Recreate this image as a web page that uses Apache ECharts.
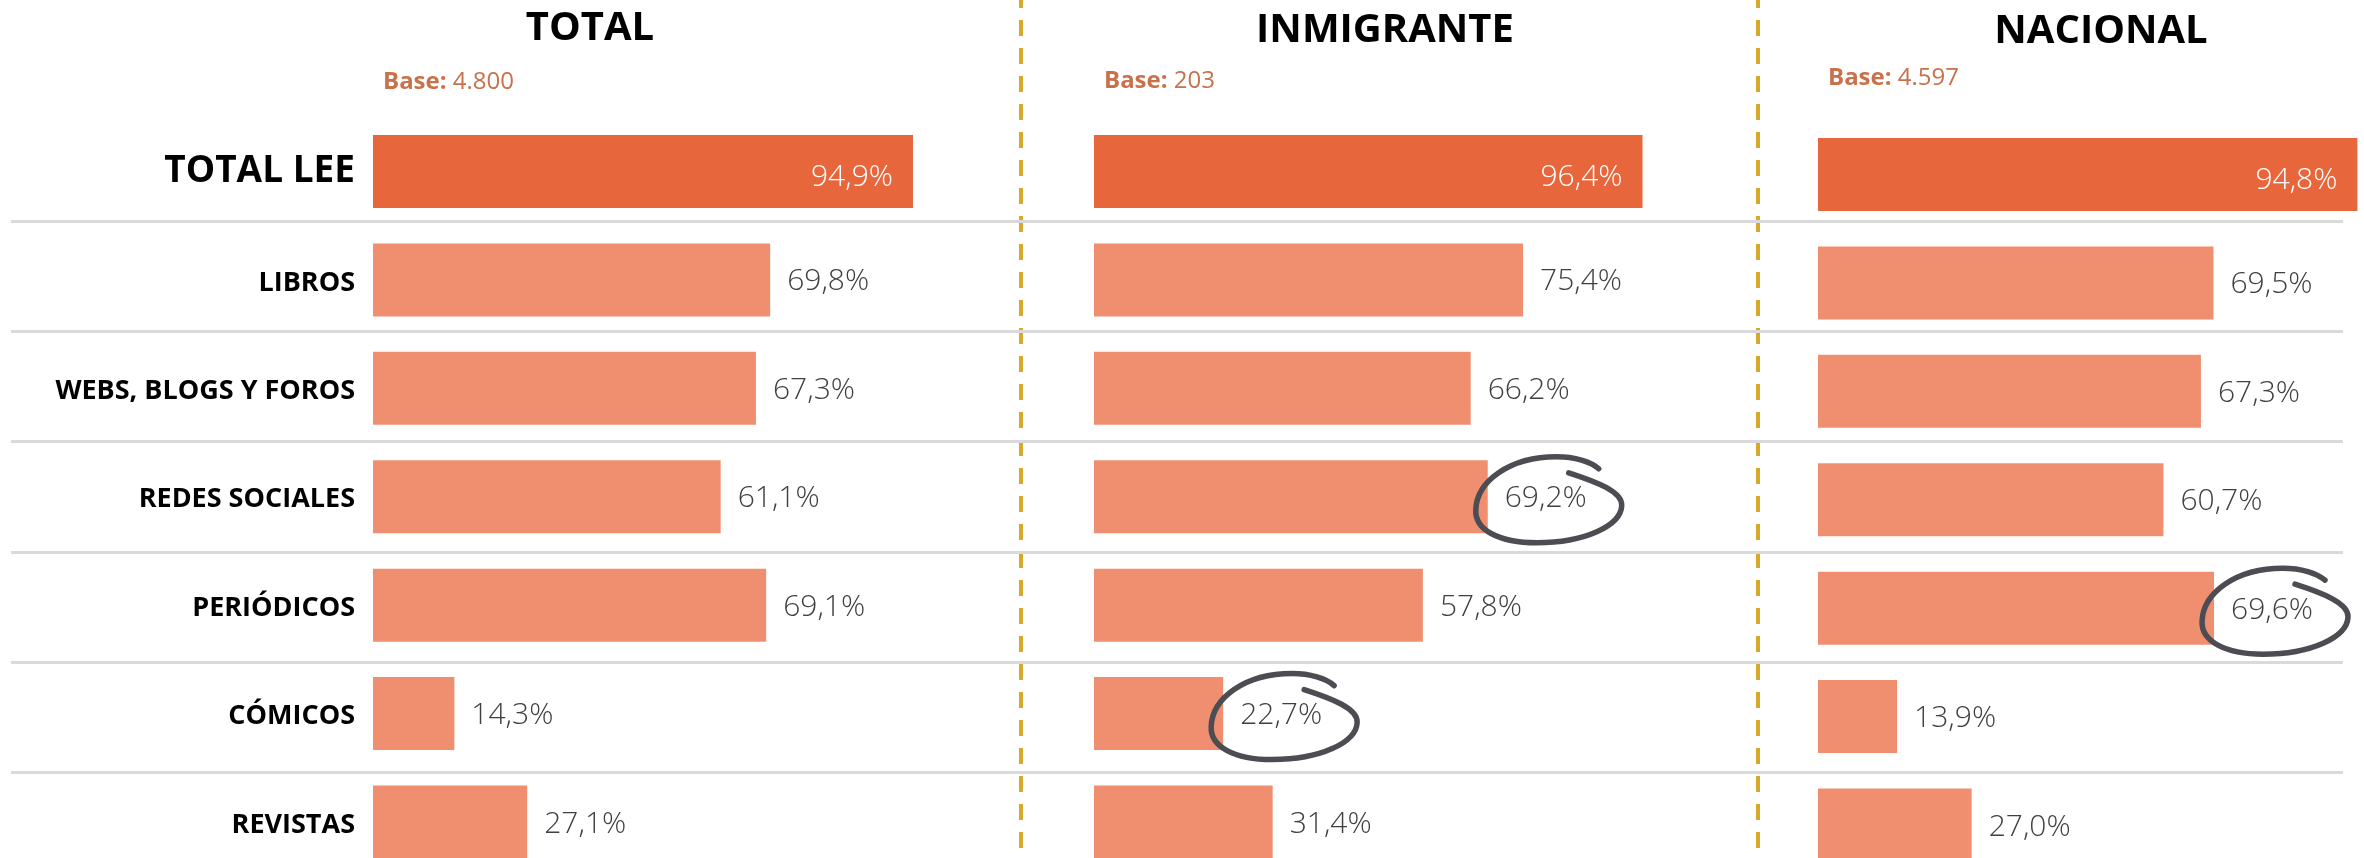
<!DOCTYPE html>
<html>
<head>
<meta charset="utf-8">
<script src="https://cdn.jsdelivr.net/npm/echarts@6/dist/echarts.min.js"></script>
<style>
  html, body { margin: 0; padding: 0; background: #ffffff; }
  #chart { width: 2364px; height: 858px; }
</style>
</head>
<body>
<div id="chart"></div>
<script>
// ---- data ----
const categories = ['TOTAL LEE', 'LIBROS', 'WEBS, BLOGS Y FOROS', 'REDES SOCIALES', 'PERIÓDICOS', 'CÓMICOS', 'REVISTAS'];
const totalValues = [94.9, 69.8, 67.3, 61.1, 69.1, 14.3, 27.1];
const inmigranteValues = [96.4, 75.4, 66.2, 69.2, 57.8, 22.7, 31.4];
const nacionalValues = [94.8, 69.5, 67.3, 60.7, 69.6, 13.9, 27.0];
const panelTitles = ['TOTAL', 'INMIGRANTE', 'NACIONAL'];
const panelBases = ['4.800', '203', '4.597'];
// rows whose value is circled, per panel (category indices)
const circledRows = [[], [3, 5], [4]];

// ---- layout & style ----
const FONT = '"Open Sans", "Noto Sans", "DejaVu Sans", sans-serif';
const SCALE_W = 569;          // pixel width of the 0–100 % range
const ROW_H = 108.42;         // pixel height of one category band
const panels = [
  { values: totalValues,      left: 373,  top: 117.3, titleX: 590,  titleY: 29, baseX: 383,  baseY: 82 },
  { values: inmigranteValues, left: 1094, top: 117.3, titleX: 1385, titleY: 31, baseX: 1104, baseY: 81 },
  { values: nacionalValues,   left: 1818, top: 120.3, titleX: 2101, titleY: 32, baseX: 1828, baseY: 78 }
];
const COLOR_HEAD = '#E8663C';
const COLOR_BAR = '#F08E70';
const COLOR_LABEL = '#404040';
const COLOR_BASE = '#C8714A';
const COLOR_DIVIDER = '#D9A82A';
const COLOR_RULE = '#DADADA';
const COLOR_INK = '#4B4D53';

// hand-drawn ring around a value label (local coords, centred on the label)
const RING_PATH = 'M 20 -27 C 48 -18 74 -8 73 6 C 72 26 36 43 -12 43 C -50 43 -74 30 -73 10 C -72 -18 -40 -43 8 -43 C 26 -43 42 -38 50 -31';

const fmt = v => v.toFixed(1).replace('.', ',') + '%';

const grids = [], xAxes = [], yAxes = [], series = [];

panels.forEach((p, i) => {
  grids.push({
    left: p.left, top: p.top, width: SCALE_W, height: ROW_H * categories.length,
    outerBoundsMode: 'none', containLabel: false
  });
  xAxes.push({ gridIndex: i, type: 'value', min: 0, max: 100, show: false });
  yAxes.push({
    gridIndex: i,
    type: 'category',
    data: categories,
    inverse: true,
    axisLine: { show: false },
    axisTick: { show: false },
    splitLine: { show: false },
    axisLabel: {
      show: i === 0,
      margin: 18,
      formatter: (v, idx) => idx === 0 ? '{head|' + v + '}' : '{row|' + v + '}',
      rich: {
        head: { fontFamily: FONT, fontWeight: 'bold', fontSize: 37, color: '#000000' },
        row: { fontFamily: FONT, fontWeight: 'bold', fontSize: 27, color: '#000000', padding: [6, 0, 0, 0] }
      }
    }
  });
  series.push({
    type: 'bar',
    xAxisIndex: i,
    yAxisIndex: i,
    barWidth: 73,
    itemStyle: { color: COLOR_BAR },
    label: {
      show: true,
      position: 'right',
      distance: 17,
      formatter: prm => fmt(prm.value),
      fontFamily: FONT,
      fontWeight: 300,
      fontSize: 30,
      color: COLOR_LABEL,
      offset: [0, 2]
    },
    data: p.values.map((v, r) => r === 0 ? {
      value: v,
      itemStyle: { color: COLOR_HEAD },
      label: { position: 'insideRight', distance: 20, color: '#ffffff', offset: [0, 6] }
    } : v),
    silent: true,
    animation: false
  });
  if (circledRows[i].length) {
    series.push({
      type: 'custom',
      xAxisIndex: i,
      yAxisIndex: i,
      data: circledRows[i].map(r => [p.values[r], r]),
      encode: { x: 0, y: 1 },
      renderItem: (params, api) => {
        const pt = api.coord([api.value(0), api.value(1)]);
        const cx = pt[0] + 61, cy = pt[1] + 3;
        return {
          type: 'path',
          shape: { pathData: RING_PATH, x: cx - 73, y: cy - 43, width: 146, height: 86, layout: 'cover' },
          style: { fill: 'none', stroke: COLOR_INK, lineWidth: 5.5, lineCap: 'round', lineJoin: 'round' }
        };
      },
      silent: true,
      animation: false,
      z: 5
    });
  }
});

// horizontal rules between rows
grids.push({ left: 11, top: 221, width: 2332, height: 110.3 * 6, outerBoundsMode: 'none', containLabel: false });
xAxes.push({ gridIndex: 3, type: 'value', min: 0, max: 1, show: false });
yAxes.push({
  gridIndex: 3,
  type: 'value',
  min: 0,
  max: 6,
  interval: 1,
  inverse: true,
  axisLine: { show: false },
  axisTick: { show: false },
  axisLabel: { show: false },
  splitLine: { show: true, lineStyle: { color: COLOR_RULE, width: 3 } },
  z: 0
});

const graphics = [];
[1021, 1758].forEach(x => graphics.push({
  type: 'line',
  shape: { x1: x, y1: 0, x2: x, y2: 858 },
  style: { stroke: COLOR_DIVIDER, lineWidth: 4, lineDash: [16, 12], lineDashOffset: 8 },
  silent: true
}));
panels.forEach((p, i) => {
  graphics.push({
    type: 'text',
    x: p.titleX,
    y: p.titleY,
    style: {
      text: panelTitles[i],
      fontFamily: FONT,
      fontWeight: 'bold',
      fontSize: 40,
      fill: '#000000',
      align: 'center',
      verticalAlign: 'middle'
    },
    silent: true
  });
  graphics.push({
    type: 'text',
    x: p.baseX,
    y: p.baseY,
    style: {
      text: '{b|Base:} ' + panelBases[i],
      fontFamily: FONT,
      fontSize: 24,
      fill: COLOR_BASE,
      align: 'left',
      verticalAlign: 'middle',
      rich: { b: { fontFamily: FONT, fontSize: 24, fontWeight: 'bold', fill: COLOR_BASE } }
    },
    silent: true
  });
});

const chart = echarts.init(document.getElementById('chart'), null, { renderer: 'canvas' });
chart.setOption({
  backgroundColor: '#ffffff',
  animation: false,
  grid: grids,
  xAxis: xAxes,
  yAxis: yAxes,
  series: series,
  graphic: graphics
});
</script>
</body>
</html>
